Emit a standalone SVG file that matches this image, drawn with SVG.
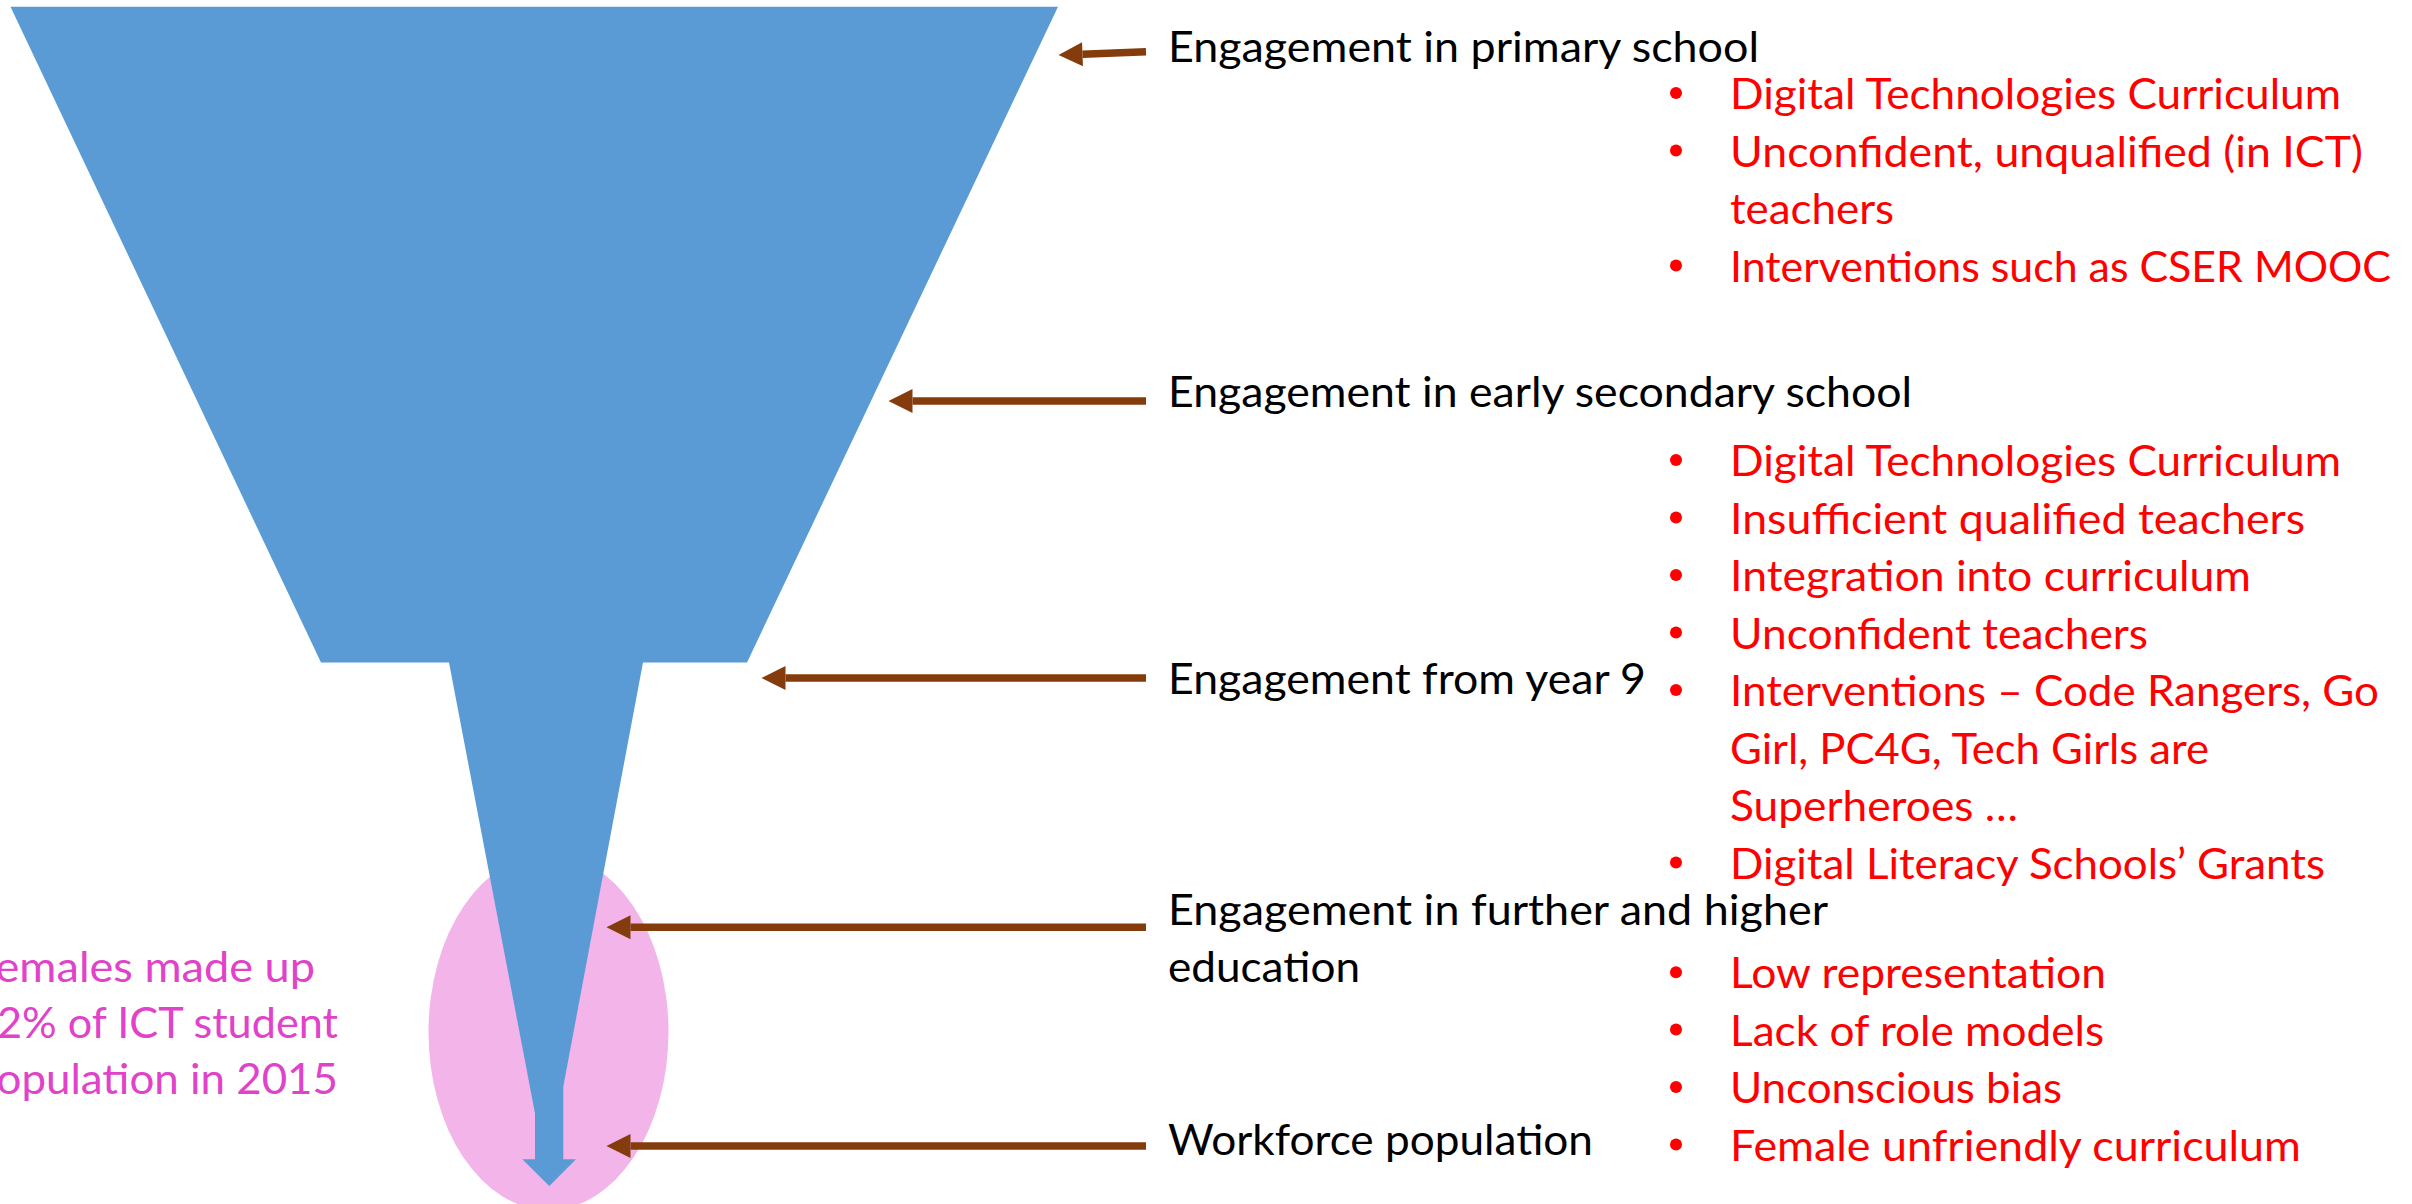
<svg xmlns="http://www.w3.org/2000/svg" width="2412" height="1204" viewBox="0 0 2412 1204">
  <style>
    .lbl { font-family: Lato, "Liberation Sans", sans-serif; font-size: 43px; fill: #000000; }
    .item { font-family: Lato, "Liberation Sans", sans-serif; font-size: 43px; fill: #FF0000; }
    .note { font-family: Lato, "Liberation Sans", sans-serif; font-size: 43px; fill: #E043C9; }
    .dot { fill: #FF0000; }
    .conn { stroke: #843C0C; stroke-width: 7.5; fill: none; marker-end: url(#head); }
  </style>
  <defs>
    <marker id="head" markerUnits="userSpaceOnUse" markerWidth="24" markerHeight="24" viewBox="0 0 23.5 23.5" refX="0" refY="11.75" orient="auto" overflow="visible">
      <path d="M0,0 L23.5,11.75 L0,23.5 Z" fill="#843C0C"/>
    </marker>
  </defs>
  <rect width="2412" height="1204" fill="#FFFFFF"/>

  <!-- highlight behind the funnel outlet -->
  <g id="highlight">
    <ellipse cx="548.5" cy="1032" rx="120" ry="178" fill="#F2B4E9"/>
  </g>

  <!-- funnel with tapered spout ending in an arrow -->
  <g id="funnel">
    <polygon fill="#5B9BD5" points="10.5,6.7 1058,6.7 747,662.5 643,662.5 563.3,1086.4 563.3,1159.3 576,1159.3 549.3,1186 522.3,1159.3 535,1159.3 535,1113.5 449,662.5 321,662.5"/>
  </g>

  <!-- side note -->
  <g id="note">
    <text class="note" x="-28" y="982" textLength="343" lengthAdjust="spacingAndGlyphs">Females made up</text>
    <text class="note" x="-28" y="1038" textLength="366" lengthAdjust="spacingAndGlyphs">22% of ICT student</text>
    <text class="note" x="-28" y="1093.5" textLength="366" lengthAdjust="spacingAndGlyphs">population in 2015</text>
  </g>

  <!-- pointers from each stage label to the funnel -->
  <g id="connectors">
    <line class="conn" x1="1146" y1="51.8" x2="1082.5" y2="54.2"/>
    <line class="conn" x1="1146" y1="401" x2="912.5" y2="401"/>
    <line class="conn" x1="1146" y1="678" x2="785.5" y2="678"/>
    <line class="conn" x1="1146" y1="927.3" x2="630.5" y2="927.3"/>
    <line class="conn" x1="1146" y1="1146" x2="630.5" y2="1146"/>
  </g>

  <g id="stage-primary">
    <text class="lbl" x="1168" y="62.3" textLength="591" lengthAdjust="spacingAndGlyphs">Engagement in primary school</text>
    <circle class="dot" cx="1676" cy="93" r="6"/>
    <text class="item" x="1730" y="109" textLength="611" lengthAdjust="spacingAndGlyphs">Digital Technologies Curriculum</text>
    <circle class="dot" cx="1676" cy="150.5" r="6"/>
    <text class="item" x="1730" y="166.5" textLength="633" lengthAdjust="spacingAndGlyphs">Unconfident, unqualified (in ICT)</text>
    <text class="item" x="1730" y="224" textLength="164" lengthAdjust="spacingAndGlyphs">teachers</text>
    <circle class="dot" cx="1676" cy="265.5" r="6"/>
    <text class="item" x="1730" y="281.5" textLength="661" lengthAdjust="spacingAndGlyphs">Interventions such as CSER MOOC</text>
  </g>

  <g id="stage-early-secondary">
    <text class="lbl" x="1168" y="406.7" textLength="744" lengthAdjust="spacingAndGlyphs">Engagement in early secondary school</text>
    <circle class="dot" cx="1676" cy="460" r="6"/>
    <text class="item" x="1730" y="476" textLength="611" lengthAdjust="spacingAndGlyphs">Digital Technologies Curriculum</text>
    <circle class="dot" cx="1676" cy="517.5" r="6"/>
    <text class="item" x="1730" y="533.5" textLength="575" lengthAdjust="spacingAndGlyphs">Insufficient qualified teachers</text>
    <circle class="dot" cx="1676" cy="575" r="6"/>
    <text class="item" x="1730" y="591" textLength="521" lengthAdjust="spacingAndGlyphs">Integration into curriculum</text>
    <circle class="dot" cx="1676" cy="632.5" r="6"/>
    <text class="item" x="1730" y="648.5" textLength="418" lengthAdjust="spacingAndGlyphs">Unconfident teachers</text>
  </g>

  <g id="stage-year9">
    <text class="lbl" x="1168" y="694.3" textLength="478" lengthAdjust="spacingAndGlyphs">Engagement from year 9</text>
    <circle class="dot" cx="1676" cy="690" r="6"/>
    <text class="item" x="1730" y="706" textLength="649" lengthAdjust="spacingAndGlyphs">Interventions – Code Rangers, Go</text>
    <text class="item" x="1730" y="763.5" textLength="479" lengthAdjust="spacingAndGlyphs">Girl, PC4G, Tech Girls are</text>
    <text class="item" x="1730" y="821" textLength="288" lengthAdjust="spacingAndGlyphs">Superheroes …</text>
    <circle class="dot" cx="1676" cy="862.5" r="6"/>
    <text class="item" x="1730" y="878.5" textLength="595" lengthAdjust="spacingAndGlyphs">Digital Literacy Schools’ Grants</text>
  </g>

  <g id="stage-further-higher">
    <text class="lbl" x="1168" y="925" textLength="660" lengthAdjust="spacingAndGlyphs">Engagement in further and higher</text>
    <text class="lbl" x="1168" y="982" textLength="192" lengthAdjust="spacingAndGlyphs">education</text>
    <circle class="dot" cx="1676" cy="972.3" r="6"/>
    <text class="item" x="1730" y="988.3" textLength="376" lengthAdjust="spacingAndGlyphs">Low representation</text>
    <circle class="dot" cx="1676" cy="1029.5" r="6"/>
    <text class="item" x="1730" y="1045.5" textLength="374" lengthAdjust="spacingAndGlyphs">Lack of role models</text>
    <circle class="dot" cx="1676" cy="1087" r="6"/>
    <text class="item" x="1730" y="1103" textLength="332" lengthAdjust="spacingAndGlyphs">Unconscious bias</text>
    <circle class="dot" cx="1676" cy="1144.5" r="6"/>
    <text class="item" x="1730" y="1160.5" textLength="571" lengthAdjust="spacingAndGlyphs">Female unfriendly curriculum</text>
  </g>

  <g id="stage-workforce">
    <text class="lbl" x="1168" y="1155.3" textLength="425" lengthAdjust="spacingAndGlyphs">Workforce population</text>
  </g>
</svg>
